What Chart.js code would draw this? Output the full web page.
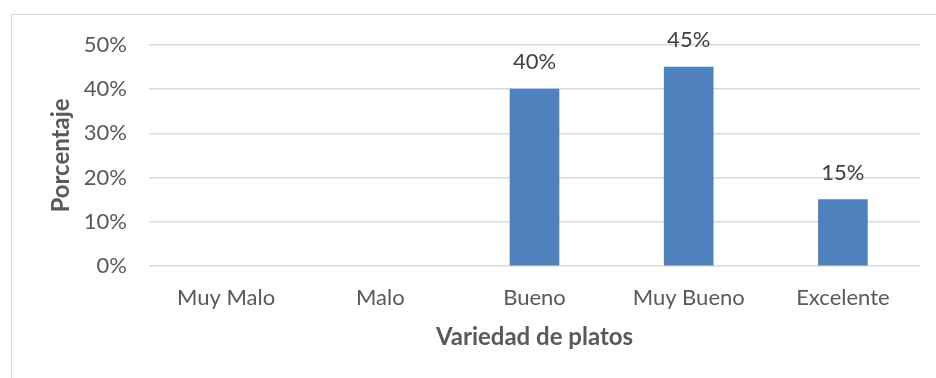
<!DOCTYPE html>
<html>
<head>
<meta charset="utf-8">
<script src="https://cdn.jsdelivr.net/npm/chart.js@4/dist/chart.umd.min.js"></script>
<style>
  html, body { margin: 0; padding: 0; background: #fff; overflow: hidden; }
  #wrap { position: relative; width: 936px; height: 378px; }
  #frame { position: absolute; left: 11px; top: 14px; width: 1000px; height: 500px;
           border: 1.5px solid #d9d9d9; box-sizing: border-box; }
  canvas { position: absolute; left: 0; top: 0; }
</style>
</head>
<body>
<div id="wrap">
  <div id="frame"></div>
  <canvas id="c" width="936" height="378"></canvas>
</div>
<script>
// Ratings for dish variety, percentage of respondents
const categories = ['Muy Malo', 'Malo', 'Bueno', 'Muy Bueno', 'Excelente'];
const percentages = [0, 0, 40, 45, 15];
const yTicks = [0, 10, 20, 30, 40, 50];
const xTitle = 'Variedad de platos';
const yTitle = 'Porcentaje';

const FONT = 'Lato, "Open Sans", sans-serif';

// Value labels above each non-zero bar
const barLabels = {
  id: 'barLabels',
  afterDatasetsDraw(chart) {
    const ctx = chart.ctx;
    const meta = chart.getDatasetMeta(0);
    ctx.save();
    ctx.font = '22px ' + FONT;
    ctx.fillStyle = '#404040';
    ctx.textAlign = 'center';
    ctx.textBaseline = 'bottom';
    meta.data.forEach((bar, i) => {
      const v = percentages[i];
      if (!v) return;
      ctx.fillText(v + '%', bar.x, bar.y - 16);
    });
    ctx.restore();
  }
};

new Chart(document.getElementById('c'), {
  type: 'bar',
  data: {
    labels: categories,
    datasets: [{
      data: percentages,
      backgroundColor: c => (c.raw ? '#4f81bd' : 'rgba(0,0,0,0)'),
      barThickness: 49
    }]
  },
  options: {
    responsive: false,
    animation: false,
    layout: { padding: { left: 40, top: 45, right: 16, bottom: 0 } },
    plugins: { legend: { display: false }, tooltip: { enabled: false } },
    scales: {
      x: {
        afterFit(scale) { scale.height = 112; },
        grid: { display: false },
        border: { display: false },
        ticks: { color: '#595959', font: { family: FONT, size: 22 }, padding: 11 },
        title: {
          display: true, text: xTitle, color: '#595959',
          font: { family: FONT, size: 24, weight: 'bold' },
          padding: { top: 0, bottom: 26 }
        }
      },
      y: {
        min: 0, max: 50,
        afterFit(scale) { scale.width = 109; },
        afterBuildTicks(scale) { scale.ticks = yTicks.map(v => ({ value: v })); },
        grid: { color: '#d9d9d9', lineWidth: 1.5, drawTicks: false },
        border: { display: false },
        ticks: {
          color: '#595959', font: { family: FONT, size: 22 }, padding: 22,
          callback: v => v + '%'
        },
        title: {
          display: true, text: yTitle, color: '#595959',
          font: { family: FONT, size: 24, weight: 'bold' },
          padding: { top: 7, bottom: 0 }
        }
      }
    }
  },
  plugins: [barLabels]
});
</script>
</body>
</html>
